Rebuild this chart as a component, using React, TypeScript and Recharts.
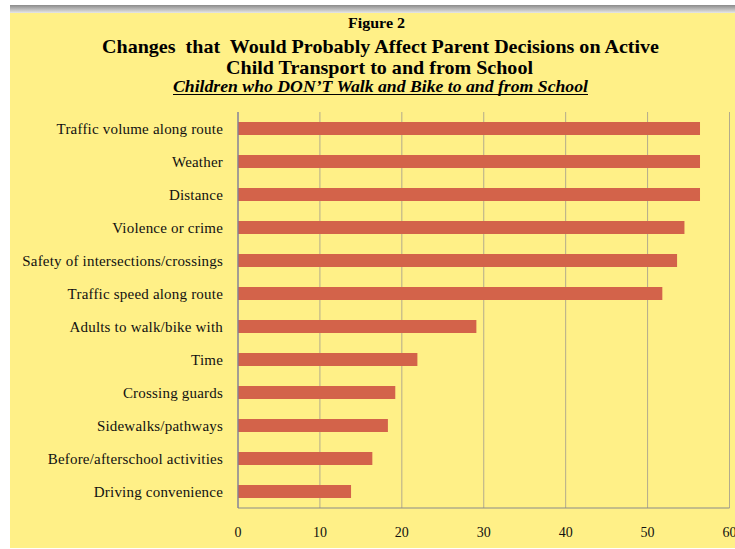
import React from 'react';
import { BarChart, Bar, XAxis, YAxis, CartesianGrid } from 'recharts';

const categories = [
  'Traffic volume along route',
  'Weather',
  'Distance',
  'Violence or crime',
  'Safety of intersections/crossings',
  'Traffic speed along route',
  'Adults to walk/bike with',
  'Time',
  'Crossing guards',
  'Sidewalks/pathways',
  'Before/afterschool activities',
  'Driving convenience',
];
const values = [56.4, 56.4, 56.4, 54.5, 53.6, 51.8, 29.1, 21.9, 19.2, 18.3, 16.4, 13.8];
const xTicks = [0, 10, 20, 30, 40, 50, 60];

const figureLabel = 'Figure 2';
const titleLine1 = 'Changes  that  Would Probably Affect Parent Decisions on Active';
const titleLine2 = 'Child Transport to and from School';
const subtitle = 'Children who DON\u2019T Walk and Bike to and from School';

const data = categories.map((name, i) => ({ name, value: values[i] }));

const FONT = '"Liberation Serif", "Times New Roman", serif';

export default function App() {
  return (
    <div style={{ position: 'absolute', left: 0, top: 0, width: 735, height: 549, background: '#ffffff', overflow: 'hidden' }}>
      <div style={{ position: 'absolute', left: 10, top: 5, width: 725, height: 8, background: 'linear-gradient(#8a8a8a, #e6e6e6)' }} />
      <div style={{ position: 'absolute', left: 10, top: 12.5, width: 725, height: 535.5, background: '#FFF087' }} />
      <svg width={735} height={549} style={{ position: 'absolute', left: 0, top: 0 }}>
        <text x={376.5} y={28} textAnchor="middle" fontFamily={FONT} fontWeight="bold" fontSize={14} fill="#000"
          textLength={57} lengthAdjust="spacingAndGlyphs">{figureLabel}</text>
        <text x={380.5} y={52.5} textAnchor="middle" fontFamily={FONT} fontWeight="bold" fontSize={19} fill="#000"
          style={{ whiteSpace: 'pre' }} textLength={557} lengthAdjust="spacingAndGlyphs">{titleLine1}</text>
        <text x={379.5} y={74} textAnchor="middle" fontFamily={FONT} fontWeight="bold" fontSize={19} fill="#000"
          textLength={307} lengthAdjust="spacingAndGlyphs">{titleLine2}</text>
        <text x={380.5} y={91.5} textAnchor="middle" fontFamily={FONT} fontWeight="bold" fontStyle="italic" fontSize={16} fill="#000"
          textLength={415} lengthAdjust="spacingAndGlyphs">{subtitle}</text>
        <line x1={173} x2={588} y1={94.5} y2={94.5} stroke="#000" strokeWidth={1.2} />
      </svg>
      <div style={{ position: 'absolute', left: 0, top: 0 }}>
        <BarChart
          width={735}
          height={549}
          data={data}
          layout="vertical"
          margin={{ top: 112, right: 5.5, bottom: 11, left: 0 }}
          style={{ fontFamily: FONT }}
        >
          <CartesianGrid horizontal={false} vertical={true} stroke="#b3ab8c" strokeWidth={1} />
          <XAxis
            type="number"
            domain={[0, 60]}
            ticks={xTicks}
            interval={0}
            height={30}
            axisLine={{ stroke: '#8a8a8a', strokeWidth: 1.2 }}
            tickLine={false}
            tickSize={0}
            tickMargin={19}
            tick={{ fill: '#111', fontSize: 14, fontFamily: FONT }}
          />
          <YAxis
            type="category"
            dataKey="name"
            width={238}
            interval={0}
            axisLine={{ stroke: '#7f7f9c', strokeWidth: 1.2 }}
            tickLine={false}
            tickSize={0}
            tickMargin={15}
            tick={{ fill: '#111', fontSize: 15, fontFamily: FONT, letterSpacing: 0.2 }}
          />
          <Bar dataKey="value" fill="#D3634A" barSize={13} isAnimationActive={false} />
        </BarChart>
      </div>
    </div>
  );
}
